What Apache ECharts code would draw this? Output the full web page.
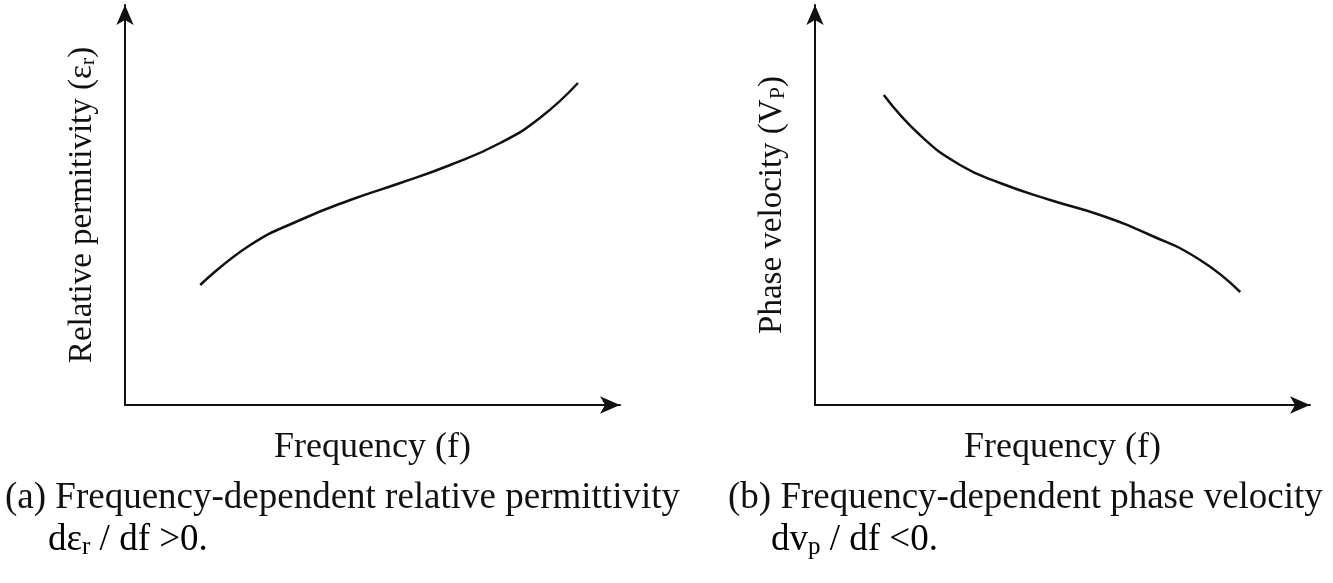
<!DOCTYPE html>
<html>
<head>
<meta charset="utf-8">
<script src="https://cdn.jsdelivr.net/npm/echarts@6/dist/echarts.min.js"></script>
<style>html,body{margin:0;padding:0;background:#fff}#chart{width:1333px;height:583px}</style>
</head>
<body>
<div id="chart"></div>
<script>
// Кривые (0..100 по обеим осям)
const permX = [15.2, 25.3, 35.4, 45.5, 55.6, 65.7, 75.8, 83.8, 91.5];
const permY = [30, 40, 46.25, 51.25, 55.5, 60, 65.5, 71.75, 80.5];
const velX = [13.9, 21.2, 29.3, 37.4, 47.5, 57.6, 67.7, 77.8, 85.9];
const velY = [77.5, 67.5, 60, 55.5, 51.25, 47.5, 42.5, 36.25, 28.25];

const font = "Liberation Serif";
const richY = {
    n: { fontFamily: font, fontSize: 33, color: "#111" },
    s: { fontFamily: font, fontSize: 22, color: "#111", verticalAlign: "bottom", padding: [12, 0, 0, 0] }
};
const rich = {
    n: { fontFamily: font, fontSize: 37, color: "#111" },
    s: { fontFamily: font, fontSize: 25, color: "#111", verticalAlign: "bottom", padding: [14, 0, 0, 0] }
};

const axisLine = { show: true, symbol: ["none", "arrow"], symbolSize: [13, 20], lineStyle: { color: "#111", width: 2 } };

const xAxis = (gridIndex) => ({
    gridIndex, type: "value", min: 0, max: 100,
    axisLine, axisTick: { show: false }, axisLabel: { show: false }, splitLine: { show: false },
    name: "Frequency (f)", nameLocation: "middle", nameGap: 25,
    nameTextStyle: { fontFamily: font, fontSize: 36, color: "#111" }
});
const yAxis = (gridIndex, name) => ({
    gridIndex, type: "value", min: 0, max: 100,
    axisLine, axisTick: { show: false }, axisLabel: { show: false }, splitLine: { show: false },
    name, nameLocation: "middle", nameGap: 26, nameRotate: 90,
    nameTextStyle: { rich: richY }
});

const lineSeries = (i, xs, ys) => ({
    type: "line", xAxisIndex: i, yAxisIndex: i, smooth: 0.5, showSymbol: false,
    lineStyle: { color: "#111", width: 2.5 },
    data: xs.map((x, k) => [x, ys[k]])
});

const chart = echarts.init(document.getElementById("chart"));
chart.setOption({
    animation: false,
    grid: [
        { left: 125, top: 5, width: 495, height: 400 },
        { left: 815, top: 5, width: 495, height: 400 }
    ],
    xAxis: [xAxis(0), xAxis(1)],
    yAxis: [
        yAxis(0, "{n|Relative permitivity (ε}{s|r}{n|)}"),
        yAxis(1, "{n|Phase velocity (V}{s|P}{n|)}")
    ],
    series: [lineSeries(0, permX, permY), lineSeries(1, velX, velY)],
    graphic: [
        { type: "text", left: 5, top: 480, style: { text: "(a) Frequency-dependent relative permittivity", font: "37px " + font, fill: "#111" } },
        { type: "text", left: 48, top: 522, style: { text: "{n|dε}{s|r}{n| / df >0.}", rich } },
        { type: "text", left: 728, top: 480, style: { text: "(b) Frequency-dependent phase velocity", font: "37px " + font, fill: "#111" } },
        { type: "text", left: 771, top: 522, style: { text: "{n|dv}{s|p}{n| / df <0.}", rich } }
    ]
});
</script>
</body>
</html>
